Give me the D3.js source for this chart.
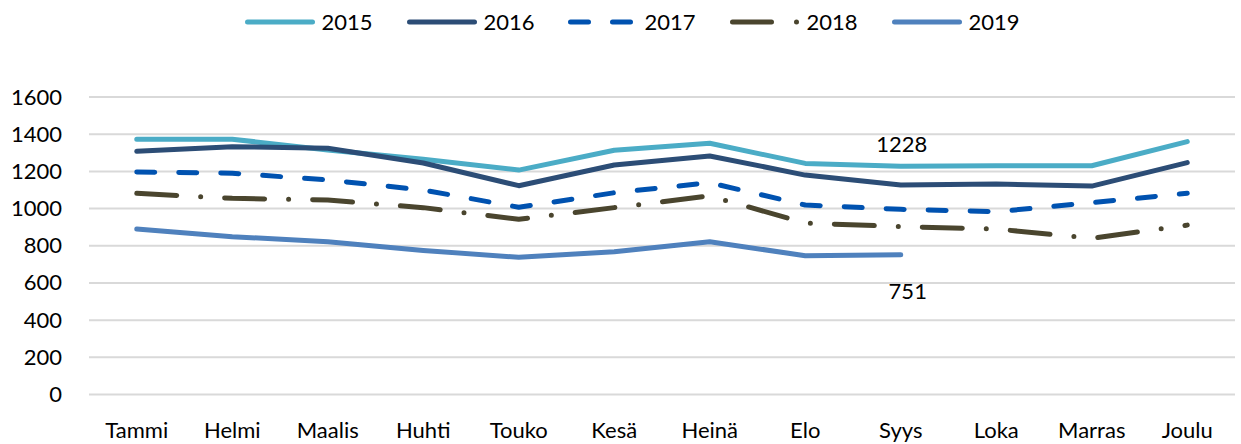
<!DOCTYPE html>
<html>
<head>
<meta charset="utf-8">
<script src="https://cdn.jsdelivr.net/npm/d3@7"></script>
<style>
  body { margin: 0; background: #fff; }
  text { font-family: Lato, "Open Sans", sans-serif; fill: #000; }
  .grid line { stroke: #d9d9d9; stroke-width: 2; }
</style>
</head>
<body>
<svg id="chart"></svg>
<script>
const months = ["Tammi","Helmi","Maalis","Huhti","Touko","Kesä","Heinä","Elo","Syys","Loka","Marras","Joulu"];
const years  = ["2015","2016","2017","2018","2019"];
const v2015 = [1373,1373,1315,1265,1207,1314,1351,1243,1228,1230,1230,1360];
const v2016 = [1308,1333,1324,1245,1123,1234,1283,1180,1127,1132,1121,1247];
const v2017 = [1197,1190,1154,1100,1007,1085,1139,1019,996,983,1032,1082];
const v2018 = [1082,1055,1046,1005,942,1005,1068,922,903,890,840,911];
const v2019 = [890,849,822,775,738,768,822,746,751];
const yTicks = [0,200,400,600,800,1000,1200,1400,1600];

let width   = 1241,
    height  = 444,
    padL    = 89,
    padR    = 1235,
    padT    = 97,
    padB    = 394.5,
    fs      = '22px',
    series  = [
      {name: years[0], values: v2015, color: "#4bacc6", dash: null,         legDash: null},
      {name: years[1], values: v2016, color: "#2c4d76", dash: null,         legDash: null},
      {name: years[2], values: v2017, color: "#0052b0", dash: "18 24",      legDash: "18 24"},
      {name: years[3], values: v2018, color: "#4a452e", dash: "40 24 0 24", legDash: "39 25 0 100"},
      {name: years[4], values: v2019, color: "#4f81bd", dash: null,         legDash: null}
    ],
    xScale  = d3.scaleBand().domain(months).range([padL, padR]),
    yScale  = d3.scaleLinear().domain([0, 1600]).range([padB, padT]),
    svg     = d3.select('#chart').attr('width', width).attr('height', height);

// gridlines
svg.append('g').attr('class', 'grid')
   .selectAll('line').data(yTicks).enter().append('line')
   .attr('x1', padL).attr('x2', padR)
   .attr('y1', d => yScale(d)).attr('y2', d => yScale(d));

// y axis labels
svg.append('g')
   .attr('transform', `translate(${padL - 27}, 0)`)
   .call(d3.axisLeft(yScale).tickValues(yTicks).tickFormat(d3.format("d")).tickSize(0).tickPadding(0))
   .call(g => g.select('.domain').remove())
   .selectAll('text').style('font-size', fs)
   .style('font-family', 'Lato, sans-serif');

// x axis labels
svg.append('g')
   .attr('transform', `translate(0, ${padB})`)
   .call(d3.axisBottom(xScale).tickSize(0).tickPadding(28))
   .call(g => g.select('.domain').remove())
   .selectAll('text').style('font-size', fs)
   .style('font-family', 'Lato, sans-serif');

let line = d3.line()
   .x((d, i) => xScale(months[i]) + xScale.bandwidth() / 2)
   .y(d => yScale(d));

svg.append('g').selectAll('path').data(series).enter().append('path')
   .attr('d', d => line(d.values))
   .attr('fill', 'none')
   .attr('stroke', d => d.color)
   .attr('stroke-width', 5)
   .attr('stroke-linecap', 'round')
   .attr('stroke-linejoin', 'round')
   .attr('stroke-dasharray', d => d.dash);

// data labels
let xc = i => xScale(months[i]) + xScale.bandwidth() / 2;
svg.append('text').attr('x', xc(8) + 1).attr('y', yScale(v2015[8]) - 22)
   .attr('text-anchor', 'middle').attr('dy', '0.35em').style('font-size', fs)
   .text(v2015[8]);
svg.append('text').attr('x', xc(8) + 7).attr('y', yScale(v2019[8]) + 36)
   .attr('text-anchor', 'middle').attr('dy', '0.35em').style('font-size', fs)
   .text(v2019[8]);

// legend
let legX = [247.5, 409.5, 570.5, 732.5, 894.5];
let leg = svg.append('g').selectAll('g').data(series).enter().append('g')
   .attr('transform', (d, i) => `translate(${legX[i]}, 22)`);
leg.append('line')
   .attr('x1', 0).attr('x2', 65)
   .attr('stroke', d => d.color).attr('stroke-width', 5)
   .attr('stroke-linecap', 'round')
   .attr('stroke-dasharray', d => d.legDash);
leg.append('text').attr('x', 74).attr('dy', '0.35em').style('font-size', fs)
   .text(d => d.name);
</script>
</body>
</html>
